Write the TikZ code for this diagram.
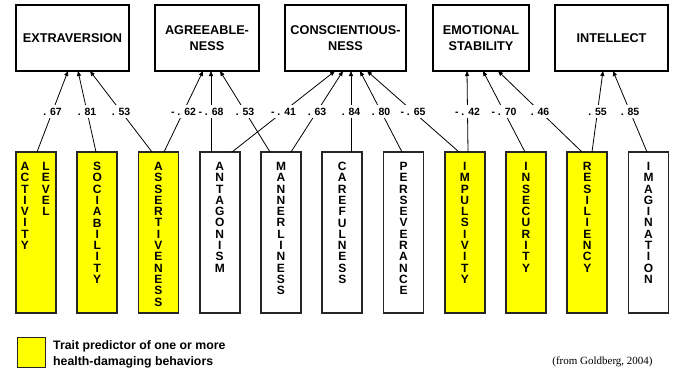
\documentclass[tikz,border=0pt]{standalone}
\usepackage{fontspec}
\setmainfont{Liberation Sans}
\newfontfamily\timesf{Liberation Serif}
\usetikzlibrary{arrows.meta}
\definecolor{hiyel}{RGB}{255,255,0}
\begin{document}
\begin{tikzpicture}[x=1pt,y=-1pt,
  topbox/.style={draw, line width=1.8pt, minimum height=66pt, inner sep=0pt, outer sep=0pt, align=center,
    font=\bfseries\fontsize{12.7}{15.7}\selectfont},
  botbox/.style={draw=black!85, line width=1.6pt, minimum width=40pt, minimum height=161pt, inner sep=0pt, outer sep=0pt},
  hi/.style={fill=hiyel},
  vt/.style={anchor=north, align=center, inner sep=0pt, font=\bfseries\fontsize{12}{11.3}\selectfont},
  arr/.style={line width=0.8pt, -{Triangle[length=5pt,width=4pt]}},
  lab/.style={fill=white, pos=0.5, inner xsep=1pt, inner ysep=3pt, text height=7.6pt, text depth=0pt,
    font=\bfseries\fontsize{10.5}{12}\selectfont}
]
\useasboundingbox (0,0) rectangle (673,370);

% top boxes
\node[topbox, minimum width=113pt] (T1) at (72.5,38) {EXTRAVERSION};
\node[topbox, minimum width=104pt] (T2) at (207,38) {AGREEABLE-\\NESS};
\node[topbox, minimum width=121pt] (T3) at (345.5,38) {CONSCIENTIOUS-\\NESS};
\node[topbox, minimum width=96pt] (T4) at (481,38) {EMOTIONAL\\STABILITY};
\node[topbox, minimum width=113pt] (T5) at (611.5,38) {INTELLECT};

% bottom boxes
\node[botbox, hi] (b1) at (36,232.5) {};
\node[botbox, hi] (b2) at (97.25,232.5) {};
\node[botbox, hi] (b3) at (158.5,232.5) {};
\node[botbox] (b4) at (219.75,232.5) {};
\node[botbox] (b5) at (281,232.5) {};
\node[botbox] (b6) at (342.25,232.5) {};
\node[botbox] (b7) at (403.5,232.5) {};
\node[botbox, hi] (b8) at (464.75,232.5) {};
\node[botbox, hi] (b9) at (526,232.5) {};
\node[botbox, hi] (b10) at (587.25,232.5) {};
\node[botbox] (b11) at (648.5,232.5) {};

% vertical texts
\node[vt] (t1a) at (25,162) {A\\C\\T\\I\\V\\I\\T\\Y};
\node[vt] (t1b) at (46,162) {L\\E\\V\\E\\L};
\node[vt] (t2) at (97.25,162) {S\\O\\C\\I\\A\\B\\I\\L\\I\\T\\Y};
\node[vt] (t3) at (158.5,162) {A\\S\\S\\E\\R\\T\\I\\V\\E\\N\\E\\S\\S};
\node[vt] (t4) at (219.75,162) {A\\N\\T\\A\\G\\O\\N\\I\\S\\M};
\node[vt] (t5) at (281,162) {M\\A\\N\\N\\E\\R\\L\\I\\N\\E\\S\\S};
\node[vt] (t6) at (342.25,162) {C\\A\\R\\E\\F\\U\\L\\N\\E\\S\\S};
\node[vt] (t7) at (403.5,162) {P\\E\\R\\S\\E\\V\\E\\R\\A\\N\\C\\E};
\node[vt] (t8) at (464.75,162) {I\\M\\P\\U\\L\\S\\I\\V\\I\\T\\Y};
\node[vt] (t9) at (526,162) {I\\N\\S\\E\\C\\U\\R\\I\\T\\Y};
\node[vt] (t10) at (587.25,162) {R\\E\\S\\I\\L\\I\\E\\N\\C\\Y};
\node[vt] (t11) at (648.5,162) {I\\M\\A\\G\\I\\N\\A\\T\\I\\O\\N};

% connectors
\draw[arr] ([xshift=1pt]b1.north) -- node[lab]{. 67} ([xshift=-4.5pt]T1.south);
\draw[arr] ([xshift=-1.25pt]b2.north) -- node[lab]{. 81} ([xshift=5.5pt]T1.south);
\draw[arr] ([xshift=-6.5pt]b3.north) -- node[lab]{. 53} ([xshift=17.5pt]T1.south);
\draw[arr] ([xshift=5.5pt]b3.north) -- node[lab]{- . 62} ([xshift=-4pt]T2.south);
\draw[arr] ([xshift=-8.75pt]b4.north) -- node[lab]{- . 68} ([xshift=4pt]T2.south);
\draw[arr] ([xshift=-11pt]b5.north) -- node[lab]{. 53} ([xshift=13pt]T2.south);
\draw[arr] ([xshift=12.25pt]b4.north) -- node[lab]{- . 41} ([xshift=-10.5pt]T3.south);
\draw[arr] ([xshift=10pt]b5.north) -- node[lab]{. 63} ([xshift=-2.5pt]T3.south);
\draw[arr] ([xshift=8.75pt]b6.north) -- node[lab]{. 84} ([xshift=5.5pt]T3.south);
\draw[arr] ([xshift=-1.5pt]b7.north) -- node[lab]{. 80} ([xshift=14.5pt]T3.south);
\draw[arr] ([xshift=-5.75pt]b8.north) -- node[lab]{- . 65} ([xshift=21.5pt]T3.south);
\draw[arr] ([xshift=3.25pt]b8.north) -- node[lab]{- . 42} ([xshift=-14pt]T4.south);
\draw[arr] ([xshift=-1pt]b9.north) -- node[lab]{- . 70} ([xshift=2pt]T4.south);
\draw[arr] ([xshift=-5.25pt]b10.north) -- node[lab]{. 46} ([xshift=17pt]T4.south);
\draw[arr] ([xshift=4.75pt]b10.north) -- node[lab]{. 55} ([xshift=-8.5pt]T5.south);
\draw[arr] ([xshift=-1.5pt]b11.north) -- node[lab]{. 85} ([xshift=1.5pt]T5.south);

% legend
\node[draw=black!85, fill=hiyel, line width=1.3pt, minimum width=27.5pt, minimum height=29.5pt, inner sep=0pt] (leg) at (31.5,352.5) {};
\node[anchor=north west, inner sep=0pt, align=left, font=\bfseries\fontsize{12.3}{16}\selectfont] (legtxt) at (53,340.5)
  {Trait predictor of one or more\\health-damaging behaviors};
\node[inner sep=0pt, font=\timesf\fontsize{11}{13}\selectfont] (cite) at (602.5,362) {(from Goldberg, 2004)};
\end{tikzpicture}
\end{document}
